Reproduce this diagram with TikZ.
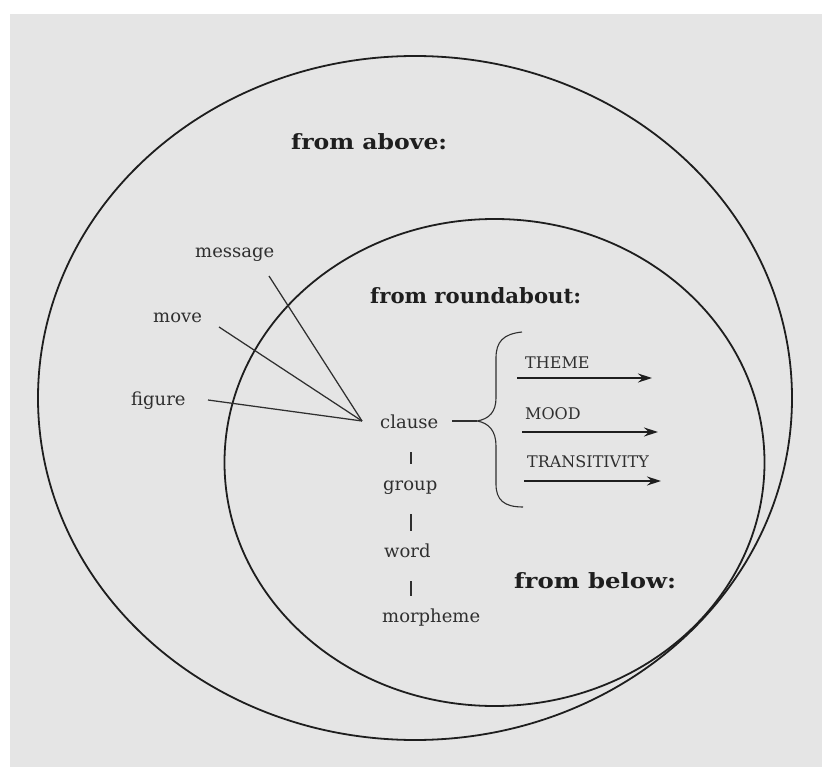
\documentclass[tikz,border=0pt]{standalone}
\usepackage{fontspec}
\setmainfont{DejaVu Serif}
\usetikzlibrary{arrows.meta}
\definecolor{paper}{HTML}{E5E5E5}
\definecolor{ink}{HTML}{1E1E1E}
\definecolor{labelink}{HTML}{2F2F2F}
\newcommand{\headfont}[1]{\bfseries\fontsize{21}{21}\selectfont\addfontfeature{FakeStretch=#1}}
\begin{document}
\begin{tikzpicture}[x=1pt,y=-1pt,
  heading/.style={text=ink, inner sep=0pt, anchor=base west},
  label/.style={font=\fontsize{18}{18}\selectfont, text=labelink, inner sep=0pt, anchor=base west},
  unit/.style={label, text height=14pt, text depth=4pt},
  system/.style={font=\fontsize{16}{16}\selectfont, text=labelink, inner sep=0pt, anchor=base west},
  ring/.style={draw=ink, line width=1.8pt},
  spoke/.style={draw=labelink, line width=1.25pt},
  bar/.style={draw=labelink, line width=1.1pt, shorten <=20pt, shorten >=12pt},
  sysarrow/.style={draw=ink, line width=1.2pt, -{Stealth[length=14pt,width=9pt]}}]

\useasboundingbox (0,0) rectangle (822,767);
\fill[white] (0,0) rectangle (822,767);
\fill[paper] (10,14) rectangle (822,767);

% the two nested domains
\draw[ring] (415,398) ellipse [x radius=377pt, y radius=342pt];
\draw[ring] (494.5,462.5) ellipse [x radius=270pt, y radius=243.5pt];

% headings
\node[heading, font=\headfont{1.12}] (above) at (291,150) {from above:};
\node[heading, font=\headfont{1.01}] (round) at (370,304) {from roundabout:};
\node[heading, font=\headfont{1.16}] (below) at (514,588) {from below:};

% views from above
\node[label] (message) at (195,258) {message};
\node[label] (move) at (153,323) {move};
\node[label] (figure) at (131,405) {figure};

% rank scale
\node[unit] (clause) at (380,428) {clause};
\node[unit] (group) at (383,490) {group};
\node[unit] (word) at (384,557) {word};
\node[unit] (morpheme) at (382,622) {morpheme};

\coordinate (barx) at (411,0);
\draw[bar] (clause.south -| barx) -- (group.north -| barx);
\draw[bar] (group.south -| barx) -- (word.north -| barx);
\draw[bar] (word.south -| barx) -- (morpheme.north -| barx);

% spokes converging on the clause
\coordinate (hub) at ([xshift=-18pt,yshift=2pt]clause.west);
\coordinate (msgEnd) at (269,276);
\coordinate (moveEnd) at (219,327);
\coordinate (figEnd) at (208,400);
\draw[spoke] (msgEnd) -- (hub);
\draw[spoke] (moveEnd) -- (hub);
\draw[spoke] (figEnd) -- (hub);

% brace fanning out to the systems
\coordinate (dashStart) at (452,421);
\coordinate (tip) at (477,421);
\draw[spoke] (dashStart) -- (tip);
\draw[spoke, line width=1.1pt] (522,332) .. controls (503,334) and (496,342) .. (496,358)
  -- (496,398) .. controls (496,412) and (489,419) .. (tip)
  .. controls (489,423) and (496,431) .. (496,446)
  -- (496,484) .. controls (496,500) and (504,507) .. (523,507);

% systems
\node[system] (theme) at (525,368) {THEME};
\node[system] (mood) at (525,419) {MOOD};
\node[system] (trans) at (527,467) {TRANSITIVITY};

\coordinate (themeA) at (517,378);
\coordinate (themeB) at (652,378);
\coordinate (moodA) at (522,432);
\coordinate (moodB) at (658,432);
\coordinate (transA) at (524,481);
\coordinate (transB) at (661,481);
\draw[sysarrow] (themeA) -- (themeB);
\draw[sysarrow] (moodA) -- (moodB);
\draw[sysarrow] (transA) -- (transB);
\end{tikzpicture}
\end{document}
